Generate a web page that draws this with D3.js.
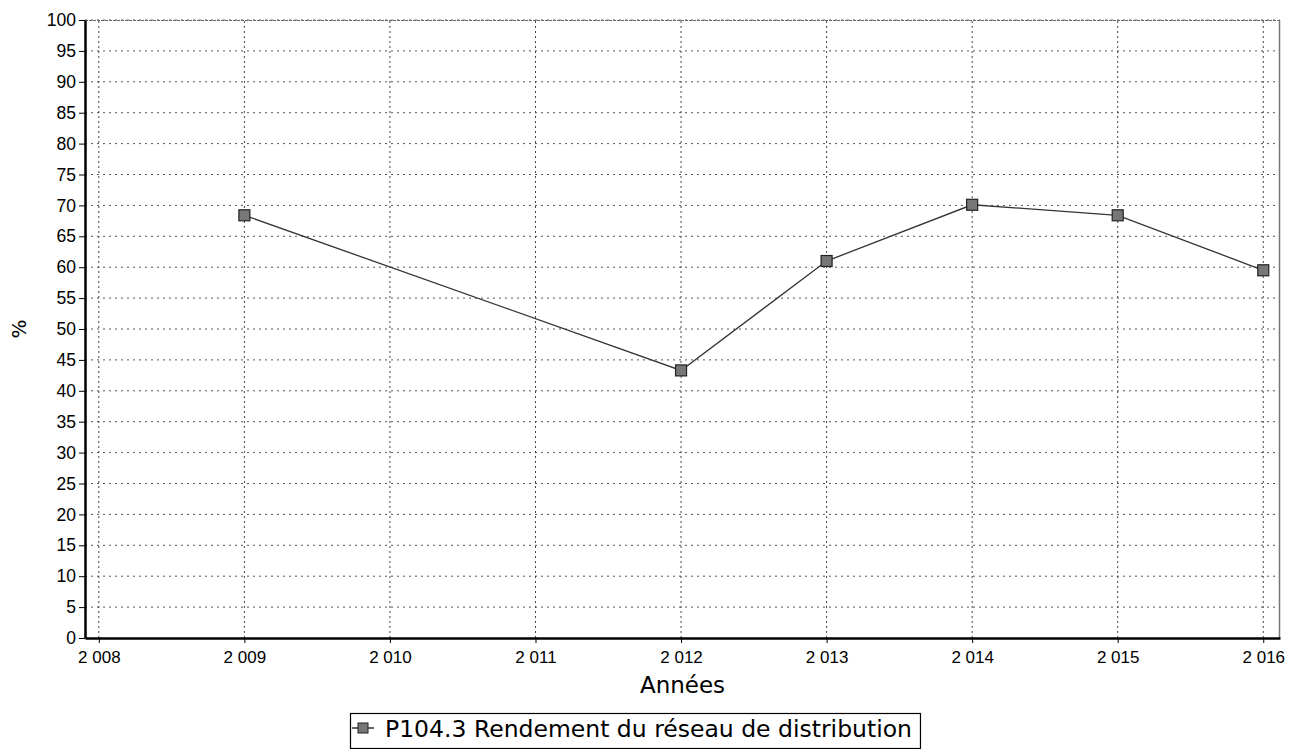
<!DOCTYPE html>
<html><head><meta charset="utf-8">
<script src="https://cdn.jsdelivr.net/npm/d3@7"></script>
<style>body{margin:0;background:#fff;} svg{display:block;font-family:"DejaVu Sans",sans-serif;}</style>
</head><body>
<script>
const years = [2009, 2012, 2013, 2014, 2015, 2016];
const values = [68.4, 43.3, 61.0, 70.1, 68.4, 59.5];
const xTickValues = [2008, 2009, 2010, 2011, 2012, 2013, 2014, 2015, 2016];
const yTickValues = d3.range(0, 101, 5);
const seriesName = "P104.3 Rendement du réseau de distribution";
const xTitle = "Années";
const yTitle = "%";

const W = 1290, H = 749;
const m = {left: 85, top: 20, right: 10, bottom: 111};
const svg = d3.select("body").append("svg").attr("width", W).attr("height", H);

const x = d3.scaleLinear().domain([2007.905, 2016.115]).range([m.left, W - m.right]);
const y = d3.scaleLinear().domain([0, 100]).range([H - m.bottom, m.top]);

const fmt = d => { const s = String(d); return s.slice(0,1) + " " + s.slice(1); };

// grid
const g = svg.append("g");
g.selectAll(".hg").data(yTickValues.filter(d => d > 0)).join("line")
  .attr("x1", x.range()[0]).attr("x2", x.range()[1])
  .attr("y1", d => y(d)).attr("y2", d => y(d))
  .attr("stroke", "#555").attr("stroke-width", 1).attr("stroke-dasharray", "2,4");
g.selectAll(".vg").data(xTickValues).join("line")
  .attr("x1", d => x(d)).attr("x2", d => x(d))
  .attr("y1", y.range()[0]).attr("y2", y.range()[1])
  .attr("stroke", "#444").attr("stroke-width", 1).attr("stroke-dasharray", "2,3");

// top/right border
svg.append("line").attr("x1", x.range()[0]).attr("x2", x.range()[1]).attr("y1", m.top+0.5).attr("y2", m.top+0.5)
  .attr("stroke", "#666").attr("stroke-dasharray", "3,1");
svg.append("line").attr("x1", x.range()[1]-0.5).attr("x2", x.range()[1]-0.5).attr("y1", m.top).attr("y2", y(0))
  .attr("stroke", "#777").attr("stroke-width", 1.5);

// axes
const xAxis = svg.append("g").attr("transform", `translate(0,${y(0)})`)
  .call(d3.axisBottom(x).tickValues(xTickValues).tickFormat(fmt).tickSize(5).tickSizeOuter(0));
xAxis.select(".domain").attr("stroke", "#000").attr("stroke-width", 2.5);
xAxis.selectAll("text").attr("font-size", 17).attr("fill", "#000").attr("y", 0).attr("dy", 0)
  .attr("transform", "translate(0,25)");

const yAxis = svg.append("g").attr("transform", `translate(${x.range()[0]},0)`)
  .call(d3.axisLeft(y).tickValues(yTickValues).tickFormat(d3.format("d")).tickSize(6).tickSizeOuter(0));
yAxis.select(".domain").attr("stroke", "#000").attr("stroke-width", 2.5);
yAxis.selectAll("text").attr("font-size", 17.5).attr("fill", "#000").attr("x", -9);

// titles
svg.append("text").attr("x", (x.range()[0] + x.range()[1]) / 2).attr("y", 693)
  .attr("text-anchor", "middle").attr("font-size", 23).text(xTitle);
svg.append("text").attr("transform", `translate(26,${y(50)}) rotate(-90)`)
  .attr("text-anchor", "middle").attr("font-size", 20).text(yTitle);

// line
const data = years.map((yr, i) => ({yr, v: values[i]}));
svg.append("path").datum(data)
  .attr("d", d3.line().x(d => x(d.yr)).y(d => y(d.v)))
  .attr("fill", "none").attr("stroke", "#333").attr("stroke-width", 1.3);
svg.selectAll(".pt").data(data).join("rect")
  .attr("x", d => x(d.yr) - 5.5).attr("y", d => y(d.v) - 5.5)
  .attr("width", 11).attr("height", 11)
  .attr("fill", "#777").attr("stroke", "#222").attr("stroke-width", 1.2);

// legend
const lg = svg.append("g");
const lt = lg.append("text").attr("x", 385).attr("y", 737).attr("font-size", 23.5).text(seriesName);
const tw = lt.node().getComputedTextLength();
lg.insert("rect", "text").attr("x", 350.5).attr("y", 713.5).attr("width", 385 + tw + 8 - 350).attr("height", 35)
  .attr("fill", "#fff").attr("stroke", "#000").attr("stroke-width", 1.2);
lg.append("line").attr("x1", 352).attr("x2", 374).attr("y1", 728).attr("y2", 728).attr("stroke", "#333").attr("stroke-width", 1.5);
lg.append("rect").attr("x", 358).attr("y", 723).attr("width", 10).attr("height", 10)
  .attr("fill", "#777").attr("stroke", "#222");
</script>
</body></html>
